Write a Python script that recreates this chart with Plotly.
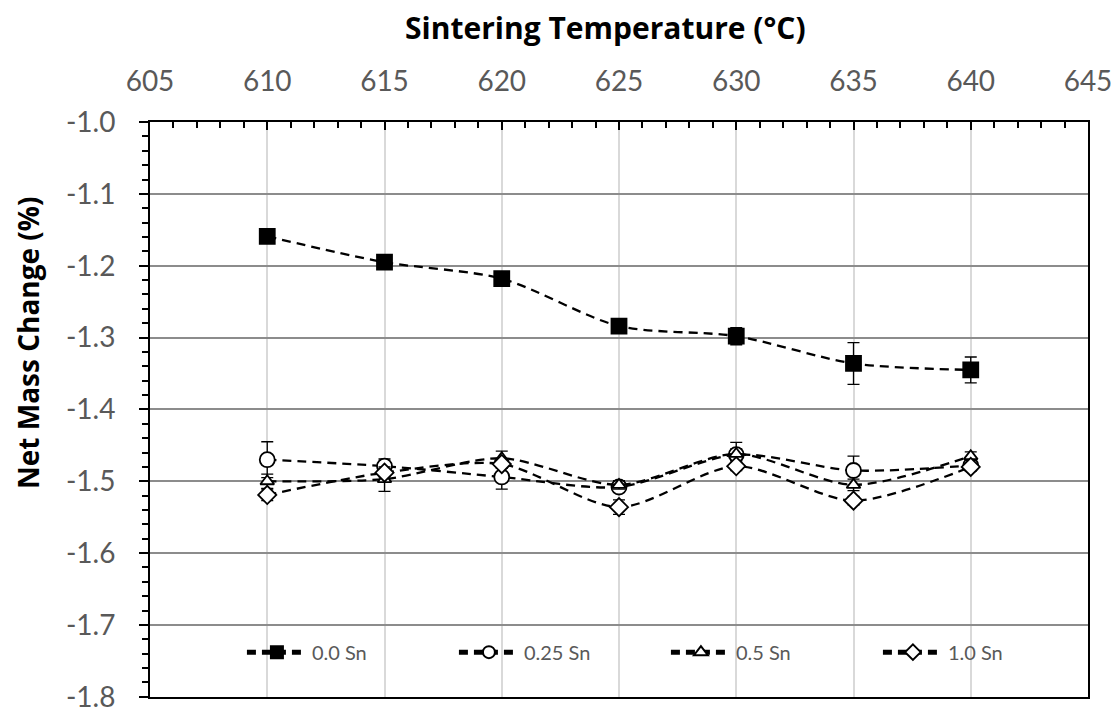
import plotly.graph_objects as go

# Sintering temperatures (°C)
temperature = [610, 615, 620, 625, 630, 635, 640]

# Net mass change (%) and standard deviation for each tin addition
sn_00 = [-1.159, -1.195, -1.218, -1.284, -1.298, -1.336, -1.345]
sn_00_err = [0.008, 0.004, 0.005, 0.008, 0.012, 0.029, 0.018]

sn_025 = [-1.470, -1.479, -1.494, -1.508, -1.463, -1.485, -1.478]
sn_025_err = [0.025, 0.010, 0.017, 0.006, 0.008, 0.020, 0.006]

sn_05 = [-1.500, -1.497, -1.468, -1.505, -1.462, -1.505, -1.465]
sn_05_err = [0.010, 0.017, 0.010, 0.006, 0.016, 0.008, 0.006]

sn_10 = [-1.519, -1.488, -1.476, -1.536, -1.479, -1.527, -1.480]
sn_10_err = [0.008, 0.006, 0.006, 0.010, 0.006, 0.006, 0.005]

series_names = ["0.0 Sn", "0.25 Sn", "0.5 Sn", "1.0 Sn"]

# Axis ticks (hyphen-minus labels, as in the original spreadsheet chart)
x_ticks = [605, 610, 615, 620, 625, 630, 635, 640, 645]
y_ticks = [-1.8, -1.7, -1.6, -1.5, -1.4, -1.3, -1.2, -1.1, -1.0]
y_tick_text = [f"{v:.1f}" for v in y_ticks]

FONT = "Lato"
TITLE_FONT = "Open Sans"
GRAY_TEXT = "#595959"

series = [
    (sn_00, sn_00_err, "square", 15, "black"),
    (sn_025, sn_025_err, "circle", 15, "white"),
    (sn_05, sn_05_err, "triangle-up", 12, "white"),
    (sn_10, sn_10_err, "diamond", 14, "white"),
]

fig = go.Figure()
for name, (vals, errs, symbol, size, fill) in zip(series_names, series):
    fig.add_trace(go.Scatter(
        x=temperature,
        y=vals,
        name=name,
        mode="lines+markers",
        line=dict(color="black", width=2.3, dash="9px,6px", shape="spline", smoothing=0.8),
        marker=dict(symbol=symbol, size=size, color=fill,
                    line=dict(color="black", width=1.8)),
        error_y=dict(type="data", array=errs, visible=True,
                     color="black", thickness=1.3, width=6),
    ))

fig.update_layout(
    width=1118,
    height=709,
    margin=dict(l=150, r=30, t=122, b=12, autoexpand=False),
    paper_bgcolor="white",
    plot_bgcolor="white",
    font=dict(family=FONT, color=GRAY_TEXT),
    showlegend=True,
    legend=dict(
        orientation="h",
        x=0.098, y=0.078,
        xanchor="left", yanchor="middle",
        entrywidth=137, entrywidthmode="pixels",
        itemwidth=60,
        itemsizing="constant",
        font=dict(family=FONT, size=20, color=GRAY_TEXT),
        bgcolor="rgba(0,0,0,0)",
    ),
    xaxis=dict(
        side="top",
        range=[605, 645],
        tickvals=x_ticks,
        automargin=False,
        showgrid=True, gridcolor="#d9d9d9", gridwidth=2,
        showline=True, linecolor="black", linewidth=2, mirror=True,
        ticks="inside", ticklen=8, tickcolor="black", tickwidth=1.5,
        minor=dict(dtick=1, ticks="inside", ticklen=6, tickcolor="black",
                   tickwidth=1.5, showgrid=False),
        tickfont=dict(family=FONT, size=28, color=GRAY_TEXT),
        ticklabelstandoff=18,
        zeroline=False,
    ),
    yaxis=dict(
        range=[-1.8003, -0.9999],
        tickvals=y_ticks,
        ticktext=y_tick_text,
        ticklabeloverflow="allow",
        automargin=False,
        showgrid=True, gridcolor="#8c8c8c", gridwidth=1.6,
        showline=True, linecolor="black", linewidth=2, mirror=True,
        ticks="outside", ticklen=9, tickcolor="black", tickwidth=1.5,
        minor=dict(dtick=0.02, ticks="outside", ticklen=6, tickcolor="black",
                   tickwidth=1.5, showgrid=False),
        tickfont=dict(family=FONT, size=28, color=GRAY_TEXT),
        ticklabelstandoff=18,
        zeroline=False,
    ),
    annotations=[
        dict(text="<b>Sintering Temperature (°C)</b>", xref="paper", yref="paper",
             x=(605 - 150) / 938, y=1 + (122 - 27) / 575, showarrow=False,
             xanchor="center", yanchor="middle",
             font=dict(family=TITLE_FONT, size=30, color="black")),
        dict(text="<b>Net Mass Change (%)</b>", xref="paper", yref="paper",
             x=-(150 - 28) / 938, y=1 - (343 - 122) / 575, showarrow=False,
             textangle=-90, xanchor="center", yanchor="middle",
             font=dict(family=TITLE_FONT, size=28, color="black")),
    ],
)

fig.write_html("out.html")
